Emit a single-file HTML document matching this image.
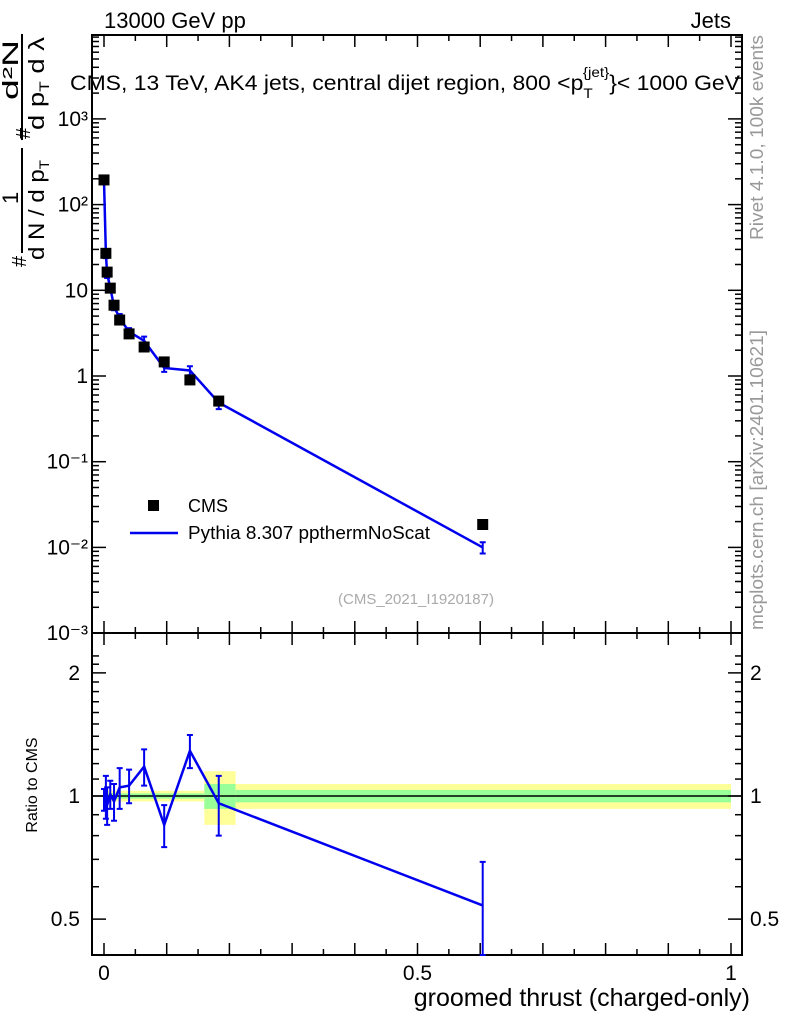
<!DOCTYPE html>
<html><head><meta charset="utf-8"><style>
body{margin:0;background:#fff;}
svg{display:block;font-family:"Liberation Sans",sans-serif;}
</style></head><body>
<svg id="c" width="786" height="1024" xmlns="http://www.w3.org/2000/svg">
<g id="bands"></g>
<g id="axes"></g>
<g id="series"></g>
<text x="104" y="28" font-size="22">13000 GeV pp</text>
<text x="731" y="28" font-size="22" text-anchor="end">Jets</text>
<text x="70" y="90" font-size="21" textLength="670" lengthAdjust="spacingAndGlyphs">CMS, 13 TeV, AK4 jets, central dijet region, 800 &lt;p<tspan font-size="14" dy="8">T</tspan><tspan font-size="14" dx="-9" dy="-21">{jet}</tspan><tspan dy="13">}&lt; 1000 GeV</tspan></text>
<text x="416" y="604" font-size="15" fill="#aaa" text-anchor="middle">(CMS_2021_I1920187)</text>
<text transform="translate(763,240) rotate(-90)" font-size="18" fill="#999" textLength="205" lengthAdjust="spacingAndGlyphs">Rivet 4.1.0,  100k events</text>
<text transform="translate(763,630) rotate(-90)" font-size="18" fill="#999" textLength="300" lengthAdjust="spacingAndGlyphs">mcplots.cern.ch [arXiv:2401.10621]</text>
<text transform="translate(37,785) rotate(-90)" font-size="16" text-anchor="middle">Ratio to CMS</text>
<text x="750" y="1006" font-size="25" text-anchor="end">groomed thrust (charged-only)</text>
<g transform="translate(0,270) rotate(-90)" font-size="22">
<text x="3" y="26" font-size="20">#</text>
<line x1="17" y1="22" x2="122" y2="22" stroke="#000" stroke-width="2"/>
<text x="10" y="44" textLength="100" lengthAdjust="spacingAndGlyphs">d N / d p<tspan font-size="14" dy="5">T</tspan></text>
<text x="66" y="18">1</text>
<text x="131" y="30" font-size="20">#</text>
<line x1="130" y1="22" x2="236" y2="22" stroke="#000" stroke-width="2"/>
<text x="140" y="44" textLength="93" lengthAdjust="spacingAndGlyphs">d p<tspan font-size="14" dy="5">T</tspan><tspan dy="-5"> d λ</tspan></text>
<text x="170" y="18" textLength="60" lengthAdjust="spacingAndGlyphs">d²N</text>
</g>
<g>
<rect x="148" y="500" width="11" height="11" fill="#000"/>
<text x="188" y="512" font-size="18">CMS</text>
<line x1="130" y1="533" x2="178" y2="533" stroke="#0000ee" stroke-width="2.5"/>
<text x="188" y="539" font-size="18" textLength="242" lengthAdjust="spacingAndGlyphs">Pythia 8.307 ppthermNoScat</text>
</g>
</svg>
<script>
const xVals=[0,0.003,0.005,0.01,0.016,0.025,0.04,0.064,0.096,0.137,0.183,0.604];
const cmsVals=[194,27,16.3,10.6,6.7,4.5,3.1,2.18,1.46,0.9,0.51,0.0185];
const ratioVals=[0.98,1.0,0.95,1.01,0.97,1.05,1.06,1.18,0.85,1.29,0.96,0.54];
const ratioErr=[0.06,0.12,0.1,0.08,0.1,0.12,0.1,0.12,0.1,0.12,0.16,0.15];
const bandEdges=[0,0.16,0.21,1.0];
const bandYellow=[0.03,0.15,0.07];
const bandGreen=[0.015,0.07,0.035];
const xTicks=[0,0.5,1];
const yTicks=[-3,-2,-1,0,1,2,3];
const yTickLabels=["10⁻³","10⁻²","10⁻¹","1","10","10²","10³"];
const rTicks=[0.5,1,2];
const rTickLabels=["0.5","1","2"];

const NS="http://www.w3.org/2000/svg";
const L=92,R=742,T=35,MB=633,RB=955;
const X=v=>104+v*627;
const Y=v=>376-Math.log10(v)*85.7;
const YR=v=>796-Math.log10(v)*409;
function mk(p,tag,at){const e=document.createElementNS(NS,tag);for(const k in at)e.setAttribute(k,at[k]);p.appendChild(e);return e;}
const axes=document.getElementById('axes'),ser=document.getElementById('series'),bands=document.getElementById('bands');

for(let i=0;i<bandYellow.length;i++){
 const x1=X(bandEdges[i]),x2=X(bandEdges[i+1]);
 const y=mk(bands,'rect',{x:x1,y:YR(1+bandYellow[i]),width:x2-x1,height:YR(1-bandYellow[i])-YR(1+bandYellow[i]),fill:'#ffff99'});
 
 
 const g=mk(bands,'rect',{x:x1,y:YR(1+bandGreen[i]),width:x2-x1,height:YR(1-bandGreen[i])-YR(1+bandGreen[i]),fill:'#99ff99'});
 
 
}
for(const [t,b] of [[T,MB],[MB,RB]]){
 const f=mk(axes,'rect',{x:L,y:t,width:R-L,height:b-t,fill:'none',stroke:'#000','stroke-width':2});
 
 
}
const ln=(x1,y1,x2,y2,w)=>mk(axes,'line',{x1,y1,x2,y2,stroke:'#000','stroke-width':w||1.5});
for(let v=0;v<=1.0001;v+=0.05){
 const major=Math.abs(v*10-Math.round(v*10))<1e-6;const h=major?12:6;const x=X(v);
 for(const [t,b] of [[T,MB],[MB,RB]]){ln(x,b,x,b-h);ln(x,t,x,t+h);}
}
xTicks.forEach(v=>{const t=mk(axes,'text',{x:X(v),y:980,'font-size':21,'text-anchor':'middle'});t.textContent=v;
 
 });
for(let d=-3;d<=3;d++){for(let m=1;m<10;m++){const y=Y(m*Math.pow(10,d));if(y<T||y>MB)continue;const h=m==1?14:7;ln(L,y,L+h,y);ln(R,y,R-h,y);}}
yTicks.forEach((v,i)=>{const t=mk(axes,'text',{x:88,y:Y(Math.pow(10,v))+7,'font-size':21,'text-anchor':'end'});t.textContent=yTickLabels[i];
 
 });
for(let v=0.4;v<=2.3;v+=0.1){const y=YR(v);if(y<MB||y>RB)continue;const maj=[0.5,1,2].some(q=>Math.abs(q-v)<1e-6);const h=maj?14:7;ln(L,y,L+h,y);ln(R,y,R-h,y);}
rTicks.forEach((v,i)=>{for(const [x,a] of [[80,'end'],[750,'start']]){const t=mk(axes,'text',{x,y:YR(v)+7,'font-size':21,'text-anchor':a});t.textContent=rTickLabels[i];
 
 }});
const one=mk(axes,'line',{x1:L,y1:YR(1),x2:R,y2:YR(1),stroke:'#000','stroke-width':1.5});



const mc=cmsVals.map((c,i)=>c*ratioVals[i]);
const pm=mk(ser,'polyline',{points:xVals.map((x,i)=>X(x)+','+Y(mc[i])).join(' '),fill:'none',stroke:'#0000ee','stroke-width':2.5});


xVals.forEach((x,i)=>{const e=ratioErr[i]*mc[i];const x0=X(x);
 const y1=Y(mc[i]+e),y2=Y(Math.max(mc[i]-e,1e-4));
 const eb=mk(ser,'path',{d:`M${x0},${y1}V${y2}M${x0-3},${y1}H${x0+3}M${x0-3},${y2}H${x0+3}`,stroke:'#0000ee','stroke-width':2,fill:'none'});
 
 
});
xVals.forEach((x,i)=>{const r=mk(ser,'rect',{x:X(x)-5.5,y:Y(cmsVals[i])-5.5,width:11,height:11,fill:'#000'});
 
 });
const pr=mk(ser,'polyline',{points:xVals.map((x,i)=>X(x)+','+YR(ratioVals[i])).join(' '),fill:'none',stroke:'#0000ee','stroke-width':2.5});


xVals.forEach((x,i)=>{const x0=X(x);const y1=Math.max(YR(ratioVals[i]+ratioErr[i]),MB),y2=Math.min(YR(Math.max(ratioVals[i]-ratioErr[i],0.01)),RB);
 const eb=mk(ser,'path',{d:`M${x0},${y1}V${y2}M${x0-3},${y1}H${x0+3}M${x0-3},${y2}H${x0+3}`,stroke:'#0000ee','stroke-width':2,fill:'none'});
 
 });
</script>
</body></html>
